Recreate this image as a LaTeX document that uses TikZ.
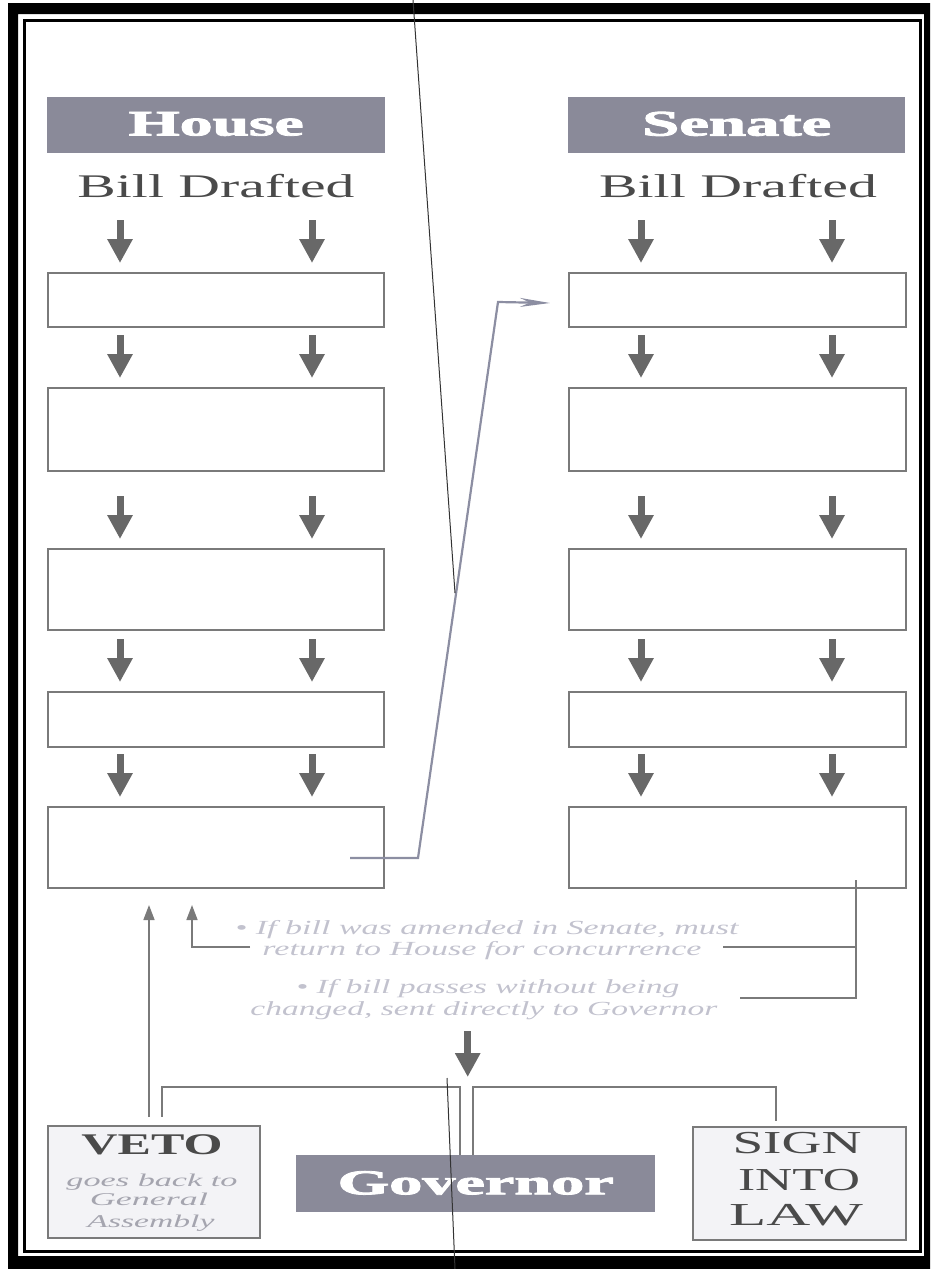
\documentclass[tikz,border=0pt]{standalone}
\usepackage{fontspec}
\setmainfont{Liberation Serif}
\newfontfamily\heavyserif{Liberation Serif}[BoldFeatures={FakeBold=2.2}]
\usetikzlibrary{arrows.meta,calc}

\definecolor{hdrfill}{HTML}{8A8A99}
\definecolor{arrowgray}{HTML}{686868}
\definecolor{boxgray}{HTML}{7A7A7A}
\definecolor{linkgray}{HTML}{8C8EA2}
\definecolor{notegray}{HTML}{C2C2CE}
\definecolor{labelgray}{HTML}{4A4A4A}
\definecolor{panelfill}{HTML}{F3F3F6}

% stretch a piece of text to a given width (in pt), keeping its height
\newcommand{\wideto}[2]{\resizebox{#1pt}{\height}{#2}}

\begin{document}
\begin{tikzpicture}[x=1pt,y=-1pt,
  header/.style={fill=hdrfill, inner sep=0pt, text=white, anchor=north west,
    font=\fontsize{36}{40}\selectfont\heavyserif\bfseries},
  stage/.style={draw=boxgray, line width=2pt, minimum width=336pt, inner sep=0pt,
    anchor=north west},
  outcome/.style={draw=boxgray, line width=1.6pt, fill=panelfill, inner sep=0pt,
    anchor=north west},
  drafted/.style={anchor=base, text=labelgray, font=\fontsize{33}{36}\selectfont},
  note/.style={anchor=base, text=notegray, font=\fontsize{20}{22}\selectfont\itshape},
  flow/.style={draw=arrowgray, line width=7pt, -{Triangle[width=24pt,length=24pt]}},
  link/.style={draw=linkgray, line width=2.2pt},
  thinlink/.style={draw=boxgray, line width=1.6pt},
  uptip/.style={-{Triangle[width=11pt,length=15pt]}},
  scanline/.style={draw=black!80, line width=1pt}
]
\useasboundingbox (0,0) rectangle (934,1269);

% page frame
\fill[black, even odd rule] (8,3) rectangle (930,1269) (18,14) rectangle (924,1256);
\draw[black, line width=3pt] (24,20.5) rectangle (920.5,1251.5);

% chamber headers
\node[header, minimum width=338pt, minimum height=56pt] (house) at (47,97)
  {\raisebox{3pt}{\wideto{175}{House}}};
\node[header, minimum width=337pt, minimum height=56pt] (senate) at (568,97)
  {\raisebox{3pt}{\wideto{189}{Senate}}};

\node[drafted] (hbill) at (216,197) {\wideto{277}{Bill Drafted}};
\node[drafted] (sbill) at (738,197) {\wideto{278}{Bill Drafted}};

% House stages
\node[stage, minimum height=54pt] (hb1) at (47,272) {};
\node[stage, minimum height=83pt] (hb2) at (47,387) {};
\node[stage, minimum height=81pt] (hb3) at (47,548) {};
\node[stage, minimum height=55pt] (hb4) at (47,691) {};
\node[stage, minimum height=81pt] (hb5) at (47,806) {};

% Senate stages
\node[stage, minimum height=54pt, minimum width=337pt] (sb1) at (568,272) {};
\node[stage, minimum height=83pt, minimum width=337pt] (sb2) at (568,387) {};
\node[stage, minimum height=81pt, minimum width=337pt] (sb3) at (568,548) {};
\node[stage, minimum height=55pt, minimum width=337pt] (sb4) at (568,691) {};
\node[stage, minimum height=81pt, minimum width=337pt] (sb5) at (568,806) {};

% arrow columns
\coordinate (hA) at (120,0);
\coordinate (hB) at (312,0);
\coordinate (sA) at (641,0);
\coordinate (sB) at (832,0);

\foreach \nxt in {hb1,hb2,hb3,hb4,hb5}
  \foreach \col in {hA,hB}
    \draw[flow] ($(\nxt.north -| \col)+(0,-52)$) -- ($(\nxt.north -| \col)+(0,-9)$);
\foreach \nxt in {sb1,sb2,sb3,sb4,sb5}
  \foreach \col in {sA,sB}
    \draw[flow] ($(\nxt.north -| \col)+(0,-52)$) -- ($(\nxt.north -| \col)+(0,-9)$);

% bill passed by the House goes over to the Senate
\coordinate (handoff) at (350,858);
\draw[link, -{Stealth[length=30pt,width=9pt]}]
  (handoff) -- (418,858) -- (498,302) -- ($(sb1.west)+(-18,3)$);

% notes after the Senate vote
\node[note] (n1) at (487,934) {\wideto{503}{• If bill was amended in Senate, must}};
\node[note] (n2) at (482,955) {\wideto{439}{return to House for concurrence}};
\node[note] (n3) at (488,993) {\wideto{383}{• If bill passes without being}};
\node[note] (n4) at (484,1015) {\wideto{467}{changed, sent directly to Governor}};

\coordinate (rtop) at (856,880);
\coordinate (rmid) at (856,947);
\coordinate (rlow) at (856,998);
\draw[thinlink] (rtop) -- (rlow) -- (740,998);
\draw[thinlink] (rmid) -- (723,947);
\draw[thinlink, uptip] (250,947) -- (192,947) -- (192,905);

% Governor and outcomes
\node[header, minimum width=359pt, minimum height=57pt,
  font=\fontsize{35}{40}\selectfont\heavyserif\bfseries]
  (gov) at (296,1155) {\raisebox{2pt}{\wideto{276}{Governor}}};
\draw[flow] ($(gov.north)+(-8,-124)$) -- ($(gov.north)+(-8,-78)$);

\node[outcome, minimum width=212pt, minimum height=112pt] (veto) at (47,1125) {};
\node[anchor=base, text=labelgray, font=\fontsize{30}{32}\selectfont\bfseries]
  (vetoT) at (152,1154) {\wideto{141}{VETO}};
\node[note, font=\fontsize{18}{20}\selectfont\itshape, text=notegray!85!black]
  (veto1) at (152,1186) {\wideto{171}{goes back to}};
\node[note, font=\fontsize{18}{20}\selectfont\itshape, text=notegray!85!black]
  (veto2) at (149,1205) {\wideto{118}{General}};
\node[note, font=\fontsize{18}{20}\selectfont\itshape, text=notegray!85!black]
  (veto3) at (151,1227) {\wideto{127}{Assembly}};

\node[outcome, minimum width=213pt, minimum height=113pt] (sign) at (692,1126) {};
\node[anchor=base, text=labelgray, font=\fontsize{32}{34}\selectfont] (sign1) at (797,1153) {\wideto{129}{SIGN}};
\node[anchor=base, text=labelgray, font=\fontsize{32}{34}\selectfont] (sign2) at (799,1190) {\wideto{122}{INTO}};
\node[anchor=base, text=labelgray, font=\fontsize{32}{34}\selectfont] (sign3) at (796,1225) {\wideto{134}{LAW}};

\coordinate (vetoUp) at (149,905);
\draw[thinlink, uptip] ($(vetoUp |- veto.north)+(0,-8)$) -- (vetoUp);

\coordinate (gl) at (460,1087);
\coordinate (gr) at (473,1087);
\coordinate (vl) at (162,1087);
\coordinate (sl) at (776,1087);
\draw[thinlink] (gl |- gov.north) -- (gl) -- (vl) -- ($(vl |- veto.north)+(0,-8)$);
\draw[thinlink] (gr |- gov.north) -- (gr) -- (sl) -- ($(sl |- sign.north)+(0,-5)$);

% stray guide lines running across the sheet
\coordinate (sc1a) at (413,0);
\coordinate (sc1b) at (455,593);
\coordinate (sc2a) at (447,1078);
\coordinate (sc2b) at (455,1269);
\draw[scanline] (sc1a) -- (sc1b);
\draw[scanline] (sc2a) -- (sc2b);
\end{tikzpicture}
\end{document}
